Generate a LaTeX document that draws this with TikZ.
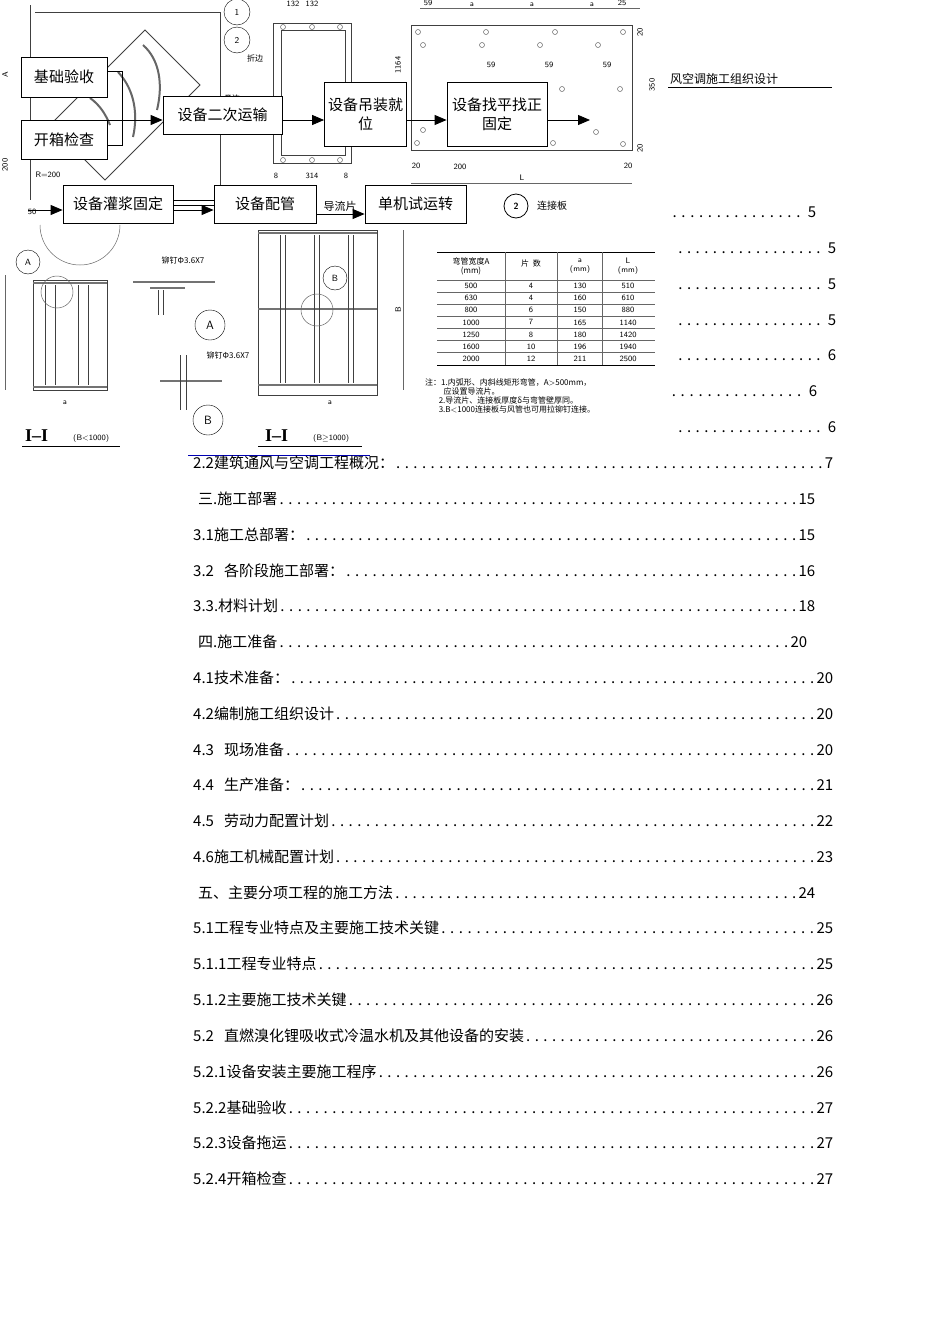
\documentclass[tikz,border=0pt]{standalone}
\usepackage{fontspec}
\setmainfont{Liberation Serif}
\newfontfamily\cjk{Noto Sans CJK SC}
\usetikzlibrary{arrows.meta}
\newcommand{\dl}{\xleaders\hbox to 8.6pt{\hss.\hss}\hfill}
\tikzset{
 fbox/.style={draw,thick,fill=white,font=\cjk\fontsize{15}{19}\selectfont,inner sep=2pt,align=center},
 fl/.style={thick,-{Triangle[length=12pt,width=10pt]}},
 drw/.style={draw=black!75,line width=0.8pt},
 thin/.style={draw=black!60,line width=0.5pt},
 sm/.style={font=\sffamily\fontsize{8}{9}\selectfont,inner sep=0pt},
 smc/.style={font=\cjk\fontsize{8}{9}\selectfont,inner sep=0pt},
 toc/.style={anchor=west,inner sep=0pt,font=\cjk\fontsize{15}{18}\selectfont,text width=#1,align=left}
}
\begin{document}
\begin{tikzpicture}[x=1pt,y=-1pt]
\useasboundingbox[fill=white] (0,0) rectangle (950,1344);
% ---- background drawings (approximate) ----
\draw[drw] (35,12) -- (220,12) -- (220,200);
\draw[drw] (30,5) -- (30,200);
\draw[drw] (145,30) -- (200,85) -- (105,180) -- (50,125) -- cycle;
\draw[line width=2pt,black!60] (143,45) .. controls (160,60) and (163,85) .. (157,110);
\draw[line width=2pt,black!60] (118,72) .. controls (135,90) and (138,115) .. (133,137);
\draw[line width=2pt,black!60] (90,98) .. controls (100,105) and (106,115) .. (110,125);
\draw[thin] (40,225) arc (180:0:40);
\node[draw,circle,minimum size=26pt,inner sep=0pt,font=\sffamily\small] (c1) at (237,12) {1};
\node[draw,circle,minimum size=26pt,inner sep=0pt,font=\sffamily\small] (c2) at (237,40) {2};
\node[smc] (zb) at (255,58) {折边};
\node[smc] (jb) at (232,98) {卷边};
\node[sm,rotate=90] (dA) at (5,75) {A};
\node[sm,rotate=90] (d200) at (5,165) {200};
\node[sm] (r200) at (48,175) {R=200};
\node[sm] (d50) at (32,212) {50};
% middle plate
\draw[drw] (273,23) rectangle (351,163);
\draw[drw] (281,30) rectangle (345,155);
\foreach \y in {27,160}{\foreach \x in {283,312,340}{\draw[thin] (\x,\y) circle (2.5);}}
\node[sm] (m132a) at (293,4) {132};
\node[sm] (m132b) at (312,4) {132};
\node[sm,rotate=90] (m1164) at (398,65) {1164};
\node[sm] (m314) at (312,176) {314};
\node[sm] (m8a) at (276,176) {8};
\node[sm] (m8b) at (346,176) {8};
% right plate
\draw[drw] (411,25) rectangle (632,150);
\foreach \x/\y in {418/32,486/32,555/32,623/32,423/45,482/45,540/45,598/45,483/90,562/89,620/89,423/130,417/143,553/143,596/132,623/144}{\draw[thin] (\x,\y) circle (2.5);}
\draw[thin] (420,8) -- (640,8);
\node[sm] (p59) at (428,3) {59};
\node[sm] (pa1) at (472,5) {a};
\node[sm] (pa2) at (532,5) {a};
\node[sm] (pa3) at (592,5) {a};
\node[sm] (p25) at (622,3) {25};
\node[sm] (q59a) at (491,65) {59};
\node[sm] (q59b) at (549,65) {59};
\node[sm] (q59c) at (607,65) {59};
\node[sm,rotate=90] (p350) at (652,85) {350};
\node[sm,rotate=90] (p20a) at (640,32) {20};
\node[sm,rotate=90] (p20b) at (640,148) {20};
\node[sm] (p20c) at (416,166) {20};
\node[sm] (p200) at (460,167) {200};
\node[sm] (p20d) at (628,166) {20};
\draw[thin] (411,183) -- (632,183);
\node[sm] (pL) at (522,178) {L};
\node[draw,circle,thick,minimum size=24pt,inner sep=0pt,font=\sffamily\bfseries\small] (c2b) at (516,206) {2};
\node[font=\cjk\fontsize{10}{12}\selectfont,anchor=west,inner sep=0pt] (ljb) at (537,206) {连接板};
% I-I (B<1000)
\draw[drw] (33,280) rectangle (107,390);
\draw[drw,line width=2pt,black!55] (33,283) -- (107,283) (33,387) -- (107,387);
\draw[drw] (45,285) -- (45,385) (55,285) -- (55,385) (78,285) -- (78,385) (88,285) -- (88,385);
\draw[thin] (5,275) -- (5,390);
\node[draw,circle,minimum size=24pt,inner sep=0pt,font=\sffamily\small] (cA) at (28,262) {A};
\draw[thin] (57,292) circle (16);
\node[sm] (ia) at (65,403) {a};
\node[font=\bfseries\fontsize{18}{20}\selectfont,anchor=west,inner sep=0pt] (t1) at (25,436) {I--I};
\node[sm,anchor=west] (t1b) at (73,438) {(B<1000)};
\draw[line width=1pt] (22,446) -- (120,446);
% details A,B
\draw[drw,line width=2pt,black!55] (133,282) -- (215,282) (150,288) -- (185,288);
\draw[drw] (158,290) -- (158,315) (163,290) -- (163,315);
\node[smc] (rv1) at (183,260) {铆钉Φ3.6X7};
\node[draw,circle,minimum size=30pt,inner sep=0pt,font=\sffamily\large] (cAA) at (210,325) {A};
\draw[drw,line width=2pt,black!55] (160,381) -- (222,381);
\draw[drw] (180,355) -- (180,410) (186,355) -- (186,410);
\node[smc] (rv2) at (228,355) {铆钉Φ3.6X7};
\node[draw,circle,minimum size=30pt,inner sep=0pt,font=\sffamily\large] (cBB) at (208,420) {B};
% I-I (B>=1000)
\draw[drw] (258,230) rectangle (377,395);
\draw[drw,line width=2pt,black!55] (258,233) -- (377,233) (258,309) -- (377,309) (258,385) -- (377,385);
\foreach \x in {280,314,348}{\draw[drw] (\x,235) -- (\x,383) (\x+5,235) -- (\x+5,383);}
\draw[thin] (403,230) -- (403,390);
\node[sm,rotate=90] (bB) at (398,310) {B};
\node[draw,circle,minimum size=24pt,inner sep=0pt,font=\sffamily\small] (cB) at (335,278) {B};
\draw[thin] (317,310) circle (16);
\node[sm] (ib) at (330,403) {a};
\node[font=\bfseries\fontsize{18}{20}\selectfont,anchor=west,inner sep=0pt] (t2) at (265,436) {I--I};
\node[sm,anchor=west] (t2b) at (313,438) {(B$\geq$1000)};
\draw[line width=1pt] (258,446) -- (362,446);
% table
\draw[line width=0.8pt] (437,252) -- (655,252) (437,365) -- (655,365);
\draw[thin] (437,280) -- (655,280);
\foreach \i in {1,...,6}{\draw[thin] (437,{280+\i*12.1}) -- (655,{280+\i*12.1});}
\foreach \x in {505,557,602}{\draw[thin] (\x,252) -- (\x,365);}
\node[smc,align=center] (h1) at (471,266) {弯管宽度A\\(mm)};
\node[smc] (h2) at (531,263) {片\ \ 数};
\node[sm,align=center] (h3) at (580,266) {a\\(mm)};
\node[sm,align=center] (h4) at (628,266) {L\\(mm)};
\foreach \a/\b/\c/\d [count=\i] in {500/4/130/510,630/4/160/610,800/6/150/880,1000/7/165/1140,1250/8/180/1420,1600/10/196/1940,2000/12/211/2500}{
 \node[sm] at (471,{274+\i*12.1}) {\a};
 \node[sm] at (531,{274+\i*12.1}) {\b};
 \node[sm] at (580,{274+\i*12.1}) {\c};
 \node[sm] at (628,{274+\i*12.1}) {\d};}
\node[smc,anchor=west,align=left] (notes) at (425,396) {注：1.内弧形、内斜线矩形弯管，A$>$500mm，\\\hspace{2.3em}应设置导流片。\\\hspace{1.7em}2.导流片、连接板厚度δ与弯管壁厚同。\\\hspace{1.7em}3.B$<$1000连接板与风管也可用拉铆钉连接。};
% ---- flowchart ----
\node[fbox,minimum width=86pt,minimum height=40pt] (n1) at (64,77) {基础验收};
\node[fbox,minimum width=86pt,minimum height=39pt] (n2) at (64,139.5) {开箱检查};
\node[fbox,minimum width=119pt,minimum height=38pt] (n3) at (222.5,115) {设备二次运输};
\node[fbox,text width=80pt,minimum height=64pt,inner sep=1pt] (n4) at (365.5,114) {设备吊装就\\位};
\node[fbox,text width=98pt,minimum height=64pt,inner sep=1pt] (n5) at (497,114) {设备找平找正\\固定};
\node[fbox,minimum width=110pt,minimum height=38pt] (n6) at (118,204) {设备灌浆固定};
\node[fbox,minimum width=102pt,minimum height=38pt] (n7) at (265,204) {设备配管};
\node[fbox,minimum width=101pt,minimum height=38pt] (n8) at (415.5,204) {单机试运转};
\coordinate (e5) at (590,120);
\coordinate (s6) at (28,210);
\draw[thick] (n1.east |- 0,71) -- (122,71) -- (122,145) -- (n2.east |- 0,145);
\draw[fl] (107,120) -- (n3.west |- 0,120);
\draw[fl] (n3.east |- 0,120) -- (n4.west |- 0,120);
\draw[fl] (n4.east |- 0,120) -- (n5.west |- 0,120);
\draw[fl] (n5.east |- 0,120) -- (e5);
\draw[fl] (s6) -- (n6.west |- 0,210);
\draw[fl] (n6.east |- 0,210) -- (n7.west |- 0,210);
\draw[thick] (n6.east |- 0,200) -- (n7.west |- 0,200) (n6.east |- 0,205) -- (n7.west |- 0,205);
\draw[fl] (n7.east |- 0,214) -- (n8.west |- 0,214);
\node[font=\cjk\fontsize{11}{12}\selectfont,inner sep=0pt] (dlp) at (340,206) {导流片};
% ---- header ----
\node[font=\cjk\fontsize{12}{14}\selectfont,anchor=west,inner sep=0pt] (hd) at (670,79) {风空调施工组织设计};
\draw[line width=1pt] (668,87) -- (832,87);
% ---- TOC ----
\foreach \y/\xs/\p/\w in {212/670/5/146,248/676/5/160,284/676/5/160,320/676/5/160,355/676/6/160,391/669/6/148,427/676/6/160}{
 \node[toc=\w pt] at (\xs,\y) {\dl\ \p};}
\draw[blue!70!black,line width=1pt] (188,455) -- (370,455);
\foreach \y/\t/\p/\w in {
463/2.2建筑通风与空调工程概况：/7/640,
499/\ 三.施工部署/15/622,
535/3.1施工总部署：/15/622,
571/3.2\ \ 各阶段施工部署：/16/622,
606/3.3.材料计划/18/622,
642/\ 四.施工准备/20/614,
678/4.1技术准备：/20/640,
714/4.2编制施工组织设计/20/640,
750/4.3\ \ 现场准备/20/640,
785/4.4\ \ 生产准备：/21/640,
821/4.5\ \ 劳动力配置计划/22/640,
857/4.6施工机械配置计划/23/640,
893/\ 五、主要分项工程的施工方法/24/622,
928/5.1工程专业特点及主要施工技术关键/25/640,
964/5.1.1工程专业特点/25/640,
1000/5.1.2主要施工技术关键/26/640,
1036/5.2\ \ 直燃溴化锂吸收式冷温水机及其他设备的安装/26/640,
1072/5.2.1设备安装主要施工程序/26/640,
1108/5.2.2基础验收/27/640,
1143/5.2.3设备拖运/27/640,
1179/5.2.4开箱检查/27/640}{
 \node[toc=\w pt] at (193,\y) {\t\dl\p};}
\end{tikzpicture}
\end{document}
